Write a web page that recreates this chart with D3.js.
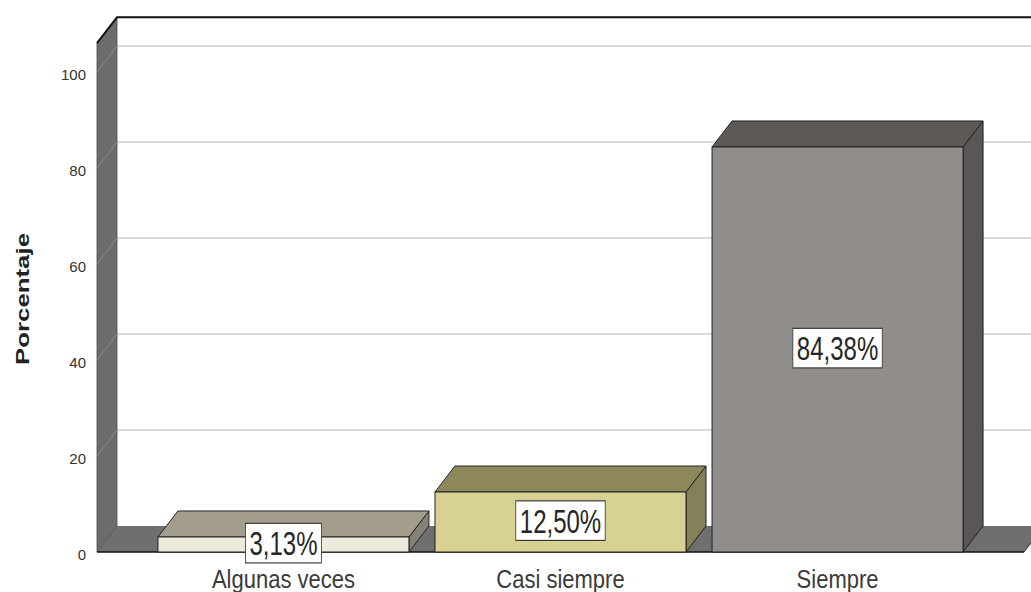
<!DOCTYPE html>
<html>
<head>
<meta charset="utf-8">
<script src="https://cdn.jsdelivr.net/npm/d3@7"></script>
<style>
  html, body { margin: 0; padding: 0; background: #ffffff; }
  svg { display: block; font-family: "Liberation Sans", Arial, sans-serif; }
</style>
</head>
<body>
<svg id="chart" width="1031" height="592"></svg>
<script>
// Response categories and their share of answers (%)
const categories = ["Algunas veces", "Casi siempre", "Siempre"];
const percentages = [3.13, 12.50, 84.38];
const yTicks = [0, 20, 40, 60, 80, 100];
const yTitle = "Porcentaje";

// Face colours for each bar: front, top, side
const barFaces = [
  { front: "#eeeadb", top: "#a39e8c", side: "#858178" },
  { front: "#d7d291", top: "#8c885b", side: "#84815a" },
  { front: "#918d8b", top: "#5d5957", side: "#5a5655" }
];

const W = 1031, H = 592;
const svg = d3.select("#chart");

// Front plane of the 3D box and its depth offset
const x0 = 97, x1 = 1024, base = 552;
const dx = 20, dy = 26;

const y = d3.scaleLinear().domain([0, 106]).range([base, base - 106 * 4.8]);
const x = d3.scaleBand()
  .domain(categories)
  .range([x0, x1])
  .paddingInner(0.094)
  .paddingOuter(0.22);

const fmt = d3.formatLocale({ decimal: ",", thousands: ".", grouping: [3], currency: ["", ""] }).format(".2f");

const yTop = y.range()[1];

// Back wall
svg.append("rect")
  .attr("x", x0 + dx).attr("y", yTop - dy)
  .attr("width", W).attr("height", base - yTop)
  .attr("fill", "#ffffff");

// Gridlines on the back wall
svg.append("g").selectAll("line")
  .data(yTicks.filter(d => d > 0))
  .join("line")
  .attr("x1", x0 + dx).attr("x2", W + 20)
  .attr("y1", d => y(d) - dy).attr("y2", d => y(d) - dy)
  .attr("stroke", "#cdcdcd").attr("stroke-width", 1.6);

// Floor
svg.append("path")
  .attr("d", d3.line()([[x0, base], [x1, base], [x1 + dx, base - dy], [x0 + dx, base - dy]]) + "Z")
  .attr("fill", "#6f6f6f");

// Left wall
svg.append("path")
  .attr("d", d3.line()([[x0, base], [x0, yTop], [x0 + dx, yTop - dy], [x0 + dx, base - dy]]) + "Z")
  .attr("fill", "#6c6c6c")
  .attr("stroke", "#4a4a4a").attr("stroke-width", 0.8);

// Faint tick guides across the left wall
svg.append("g").selectAll("line")
  .data(yTicks.filter(d => d > 0))
  .join("line")
  .attr("x1", x0).attr("x2", x0 + dx)
  .attr("y1", d => y(d)).attr("y2", d => y(d) - dy)
  .attr("stroke", "#8a8a8a").attr("stroke-width", 1);

// Top edges of the walls
svg.append("path")
  .attr("d", d3.line()([[x0, yTop], [x0 + dx, yTop - dy], [W + 5, yTop - dy]]))
  .attr("fill", "none").attr("stroke", "#111").attr("stroke-width", 2);

// Front edge of the floor
svg.append("line")
  .attr("x1", x0).attr("x2", x1)
  .attr("y1", base).attr("y2", base)
  .attr("stroke", "#111").attr("stroke-width", 1.6);
svg.append("line")
  .attr("x1", x1).attr("x2", x1 + dx)
  .attr("y1", base).attr("y2", base - dy)
  .attr("stroke", "#333").attr("stroke-width", 1);

// 3D bars
const bars = svg.append("g").selectAll("g")
  .data(categories.map((c, i) => ({ c, v: percentages[i], f: barFaces[i] })))
  .join("g");

const bw = x.bandwidth();
bars.append("path") // side
  .attr("d", d => {
    const a = x(d.c) + bw, t = y(d.v);
    return d3.line()([[a, t], [a + dx, t - dy], [a + dx, base - dy], [a, base]]) + "Z";
  })
  .attr("fill", d => d.f.side)
  .attr("stroke", "#222").attr("stroke-width", 1).attr("stroke-linejoin", "round");
bars.append("path") // top
  .attr("d", d => {
    const a = x(d.c), t = y(d.v);
    return d3.line()([[a, t], [a + dx, t - dy], [a + bw + dx, t - dy], [a + bw, t]]) + "Z";
  })
  .attr("fill", d => d.f.top)
  .attr("stroke", "#222").attr("stroke-width", 1).attr("stroke-linejoin", "round");
bars.append("rect") // front
  .attr("x", d => x(d.c)).attr("y", d => y(d.v))
  .attr("width", bw).attr("height", d => base - y(d.v))
  .attr("fill", d => d.f.front)
  .attr("stroke", "#222").attr("stroke-width", 1);

// Value labels in boxes, centred on each front face
const vl = bars.append("g")
  .attr("transform", d => `translate(${x(d.c) + bw / 2},${(y(d.v) + base) / 2 - 1.5}) scale(1,1.42)`);
vl.append("rect").attr("class", "box");
vl.append("text")
  .attr("text-anchor", "middle")
  .attr("dy", "0.36em")
  .attr("font-size", 24)
  .attr("fill", "#262626")
  .text(d => fmt(d.v) + "%");
vl.each(function () {
  const g = d3.select(this);
  const bb = g.select("text").node().getBBox();
  g.select("rect.box")
    .attr("x", bb.x - 4).attr("y", bb.y - 0.5)
    .attr("width", bb.width + 8).attr("height", bb.height + 1)
    .attr("fill", "#ffffff")
    .attr("stroke", "#333").attr("stroke-width", 0.8);
});

// Category labels
svg.append("g").selectAll("text")
  .data(categories)
  .join("text")
  .attr("transform", d => `translate(${x(d) + bw / 2},588) scale(1,1.2)`)
  .attr("text-anchor", "middle")
  .attr("font-size", 22)
  .attr("fill", "#3a3a3a")
  .text(d => d);

// Y axis
const yAxis = svg.append("g")
  .attr("transform", `translate(86,3)`)
  .call(d3.axisLeft(y).tickValues(yTicks).tickSize(0).tickPadding(0));
yAxis.select(".domain").remove();
yAxis.selectAll("text")
  .attr("font-size", 15)
  .attr("font-family", "'Liberation Sans', Arial, sans-serif")
  .attr("fill", "#333");

// Y axis title
svg.append("text")
  .attr("transform", "translate(29,299) rotate(-90) scale(1.36,1)")
  .attr("text-anchor", "middle")
  .attr("font-size", 19)
  .attr("font-weight", "bold")
  .attr("fill", "#222")
  .text(yTitle);
</script>
</body>
</html>
